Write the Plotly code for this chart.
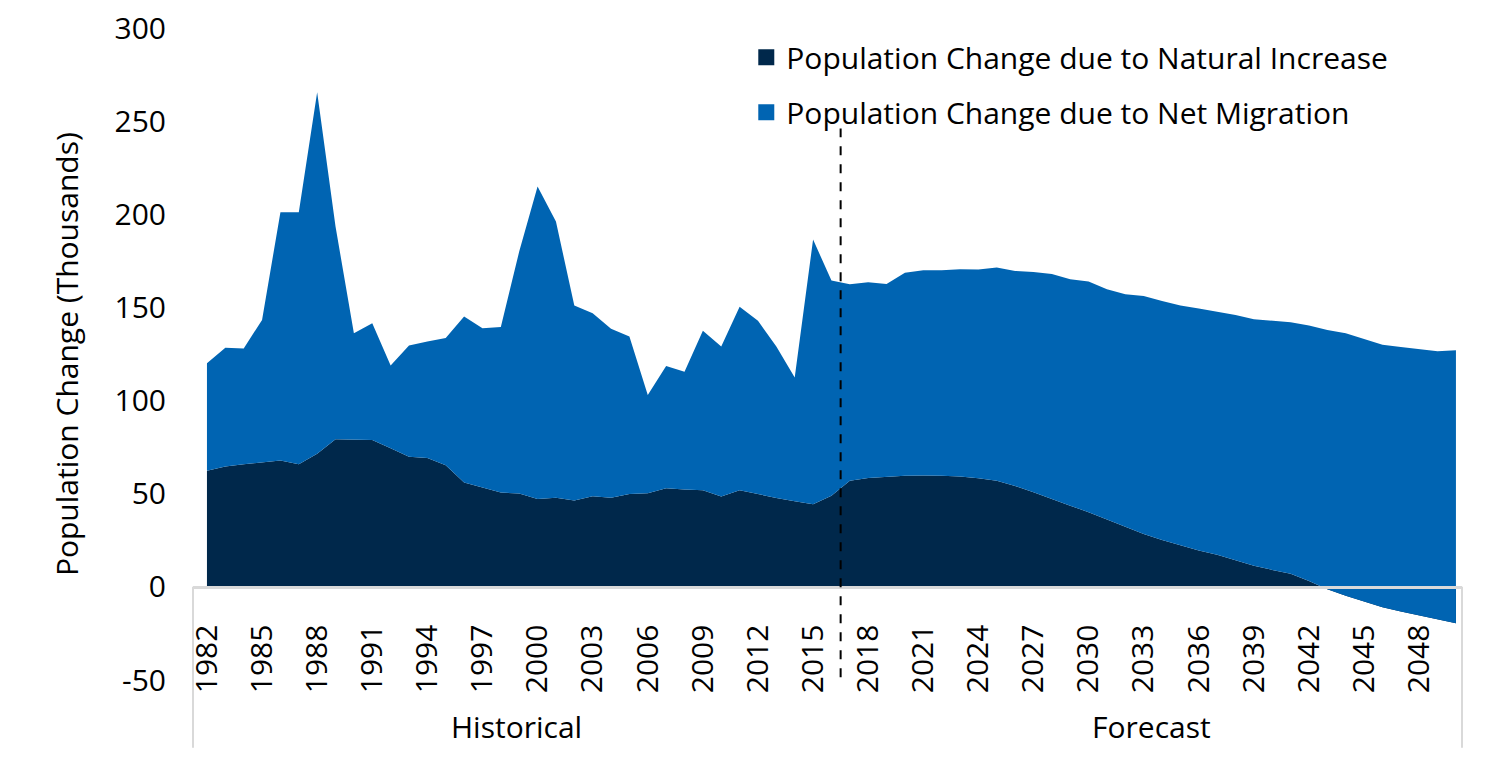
import plotly.graph_objects as go

# years on the category axis
years = list(range(1982, 2051))

# population change due to natural increase (thousands)
natural = [62.3, 64.6, 65.8, 66.7, 67.8, 65.8, 71.4, 79.2, 79.2, 78.9,
           74.4, 69.9, 69.2, 65.3, 56.0, 53.3, 50.6, 50.1, 47.1, 47.9,
           46.3, 48.7, 47.8, 49.9, 50.2, 53.0, 52.2, 51.9, 48.5, 51.9,
           49.6, 47.7, 46.0, 44.3, 48.9, 57.0, 58.5, 59.1, 59.6, 59.8,
           59.7, 59.2, 58.3, 56.9, 54.2, 50.8, 47.4, 43.6, 40.1, 36.3,
           32.4, 28.4, 25.1, 22.2, 19.5, 17.3, 14.5, 11.3, 9.1, 7.0,
           3.2, -1.3, -4.8, -7.9, -10.9, -13.2, -15.4, -17.4, -19.5]

# population change due to net migration (thousands)
migration = [57.7, 63.8, 62.1, 76.6, 133.3, 135.3, 194.1, 114.2, 56.9, 62.6,
             44.4, 59.6, 62.5, 68.3, 89.1, 85.5, 88.9, 129.9, 167.8, 148.2,
             104.7, 98.2, 90.7, 84.5, 52.8, 65.5, 63.3, 85.6, 80.5, 98.4,
             93.2, 81.3, 66.4, 142.1, 115.6, 105.4, 105.0, 103.5, 109.0, 110.1,
             110.2, 111.3, 112.0, 114.5, 115.4, 118.2, 120.6, 121.5, 123.8, 123.5,
             124.7, 127.8, 128.4, 128.8, 129.9, 130.5, 131.5, 132.4, 133.8, 135.0,
             137.1, 139.2, 140.9, 140.8, 140.9, 142.0, 143.0, 143.9, 146.5]

tick_years = list(range(1982, 2049, 3))
y_ticks = [-50, 0, 50, 100, 150, 200, 250, 300]
periods = ["Historical", "Forecast"]
split_year = 2016.5

DARK = "#00284B"
BLUE = "#0064B2"
FONT = "Open Sans"
FS = 30

fig = go.Figure()

# stacked areas
fig.add_trace(go.Scatter(x=years, y=natural, stackgroup="one", mode="lines",
                         line=dict(width=0), fillcolor=DARK, showlegend=False,
                         name="Population Change due to Natural Increase"))
fig.add_trace(go.Scatter(x=years, y=migration, stackgroup="one", mode="lines",
                         line=dict(width=0), fillcolor=BLUE, showlegend=False,
                         name="Population Change due to Net Migration"))

# legend entries with square keys
for i, (nm, col) in enumerate([("Population Change due to Natural Increase", DARK),
                                ("Population Change due to Net Migration", BLUE)]):
    fig.add_trace(go.Scatter(x=[None], y=[None], mode="markers", name=nm,
                             legendgroup=str(i),
                             marker=dict(symbol="square", size=18, color=col)))

# dashed divider between historical and forecast
fig.add_shape(type="line", xref="x", yref="y", x0=split_year, x1=split_year,
              y0=-48.5, y1=246, line=dict(color="black", width=2, dash="dash"))

# outer brackets of the period axis
for xp in [0, 1]:
    fig.add_shape(type="line", xref="paper", yref="paper", x0=xp, x1=xp,
                  y0=1/7, y1=-0.104, line=dict(color="#D9D9D9", width=2))

x_lo, x_hi = 1981.24, 2050.33
for label, xc in [(periods[0], (x_lo + split_year) / 2),
                  (periods[1], (split_year + x_hi) / 2)]:
    fig.add_annotation(x=xc, y=-0.072, xref="x", yref="paper", text=label,
                       xanchor="center", yanchor="middle", showarrow=False,
                       font=dict(size=FS, color="black"))

fig.add_annotation(x=-0.1, y=0.5, xref="paper", yref="paper", textangle=-90,
                   xanchor="center", yanchor="middle",
                   text="Population Change (Thousands)", showarrow=False,
                   font=dict(size=FS, color="black"))

fig.update_layout(
    width=1500, height=782,
    margin=dict(l=185, r=46, t=20, b=110, autoexpand=False),
    paper_bgcolor="white", plot_bgcolor="white",
    font=dict(family=FONT, size=FS, color="black"),
    legend=dict(x=0.436, y=0.995, xanchor="left", yanchor="top",
                traceorder="grouped", tracegroupgap=13,
                font=dict(size=FS), bgcolor="rgba(0,0,0,0)"),
    xaxis=dict(range=[x_lo, x_hi], tickvals=tick_years,
               ticktext=[str(y) for y in tick_years], tickangle=-90,
               anchor="free", position=1/7, showline=True, automargin=False,
               linecolor="#D9D9D9", linewidth=2.5, showgrid=False,
               zeroline=False, ticks="", ticklabelstandoff=24,
               tickfont=dict(size=FS)),
    yaxis=dict(range=[-50, 300], tickvals=y_ticks,
               ticktext=[str(v) for v in y_ticks], ticklabeloverflow="allow",
               automargin=False, showgrid=False, zeroline=False,
               showline=False, ticks="", ticklabelstandoff=26,
               tickfont=dict(size=FS)),
)

fig.write_html("out.html")
